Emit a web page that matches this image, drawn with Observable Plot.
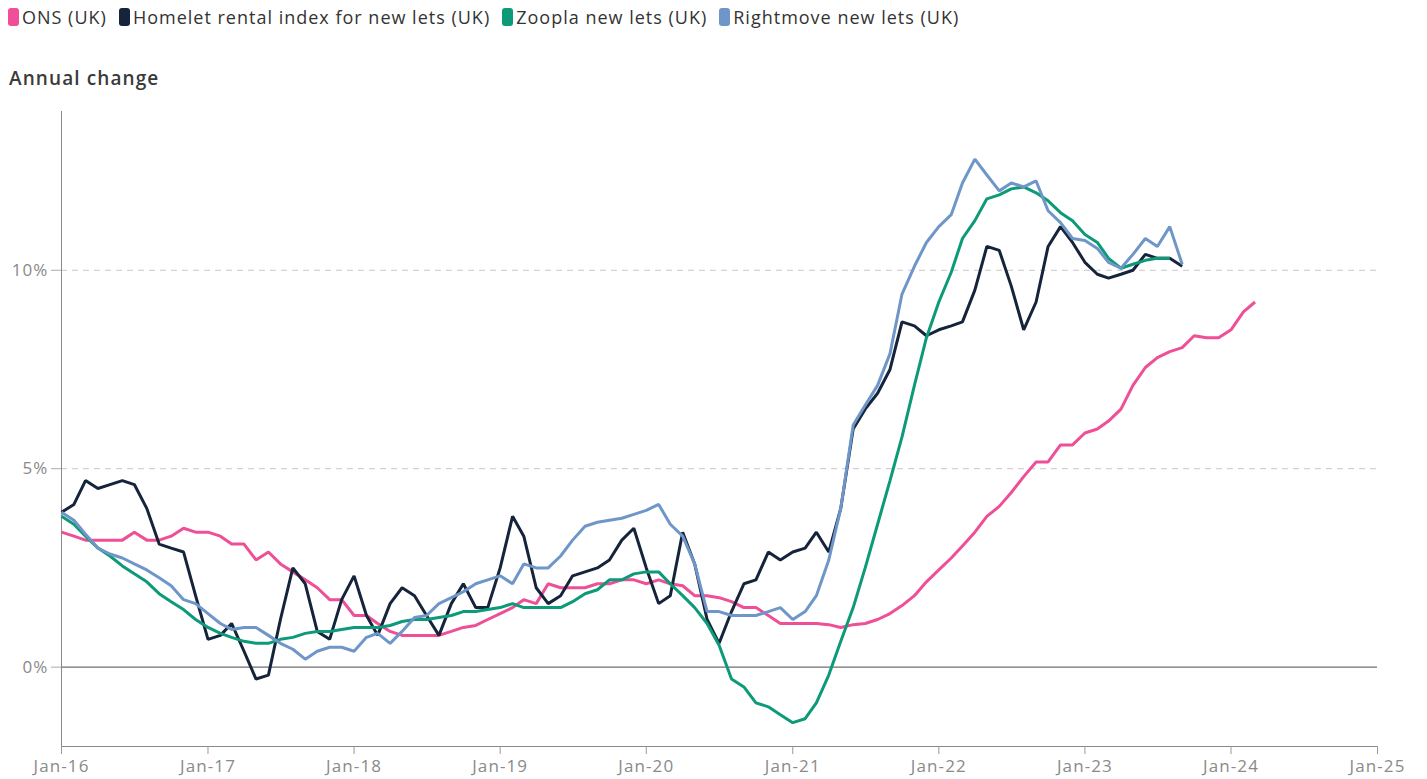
<!DOCTYPE html>
<html>
<head>
<meta charset="utf-8">
<script src="https://cdn.jsdelivr.net/npm/d3@7"></script>
<script src="https://cdn.jsdelivr.net/npm/@observablehq/plot@0.6"></script>
<style>
  html, body { margin: 0; padding: 0; background: #fff; }
  body { width: 1427px; height: 779px; position: relative; overflow: hidden; font-family: "Open Sans", sans-serif; }
  #legend { position: absolute; left: 8px; top: 5px; display: flex; align-items: center; font-size: 18px; letter-spacing: 1px; color: #333; white-space: nowrap; }
  #legend .item { display: flex; align-items: center; margin-right: 12px; }
  #legend .sw { display: inline-block; width: 11px; height: 18px; border-radius: 3px; margin-right: 3px; }
  #subtitle { position: absolute; left: 9px; top: 65px; font-size: 19px; letter-spacing: 1.1px; font-weight: 600; color: #3a3a3a; }
  #chart { position: absolute; left: 0; top: 100px; }
  #chart svg g[aria-label="y-axis tick label"] text,
  #chart svg g[aria-label="x-axis tick label"] text { letter-spacing: 1.1px; }
</style>
</head>
<body>
<div id="legend"></div>
<div id="subtitle">Annual change</div>
<div id="chart"></div>
<script>
// Series names and colours
const seriesNames = ["ONS (UK)", "Homelet rental index for new lets (UK)", "Zoopla new lets (UK)", "Rightmove new lets (UK)"];
const seriesColors = ["#ee4f96", "#15243b", "#0c9a78", "#6f96c9"];

// Monthly annual change (%), starting Jan 2016
const ons = [
  3.4, 3.3, 3.2, 3.2, 3.2, 3.2, 3.4, 3.2, 3.2, 3.3, 3.5, 3.4,
  3.4, 3.3, 3.1, 3.1, 2.7, 2.9, 2.6, 2.4, 2.2, 2.0, 1.7, 1.7,
  1.3, 1.3, 1.1, 0.9, 0.8, 0.8, 0.8, 0.8, 0.9, 1.0, 1.05, 1.2,
  1.35, 1.5, 1.7, 1.6, 2.1, 2.0, 2.0, 2.0, 2.1, 2.1, 2.2, 2.2,
  2.1, 2.2, 2.1, 2.05, 1.8, 1.8, 1.75, 1.65, 1.5, 1.5, 1.3, 1.1,
  1.1, 1.1, 1.1, 1.07, 1.0, 1.07, 1.1, 1.2, 1.35, 1.55, 1.8, 2.15,
  2.45, 2.75, 3.05, 3.4, 3.8, 4.05, 4.4, 4.8, 5.17, 5.17, 5.6, 5.6,
  5.9, 6.0, 6.2, 6.5, 7.1, 7.55, 7.8, 7.95, 8.05, 8.35, 8.3, 8.3,
  8.5, 8.95, 9.2
];
const homelet = [
  3.9, 4.1, 4.7, 4.5, 4.6, 4.7, 4.6, 4.0, 3.1, 3.0, 2.9, 1.8,
  0.7, 0.8, 1.1, 0.4, -0.3, -0.2, 1.2, 2.5, 2.1, 0.9, 0.7, 1.7,
  2.3, 1.3, 0.8, 1.6, 2.0, 1.8, 1.3, 0.8, 1.6, 2.1, 1.5, 1.5,
  2.5, 3.8, 3.3, 2.0, 1.6, 1.8, 2.3, 2.4, 2.5, 2.7, 3.2, 3.5,
  2.5, 1.6, 1.8, 3.4, 2.6, 1.2, 0.6, 1.4, 2.1, 2.2, 2.9, 2.7,
  2.9, 3.0, 3.4, 2.9, 4.0, 6.0, 6.5, 6.9, 7.5, 8.7, 8.6, 8.35,
  8.5, 8.6, 8.7, 9.5, 10.6, 10.5, 9.6, 8.5, 9.2, 10.6, 11.1, 10.7,
  10.2, 9.9, 9.8, 9.9, 10.0, 10.4, 10.3, 10.3, 10.1
];
const zoopla = [
  3.8, 3.6, 3.3, 3.0, 2.8, 2.55, 2.35, 2.15, 1.85, 1.65, 1.45, 1.2,
  1.0, 0.85, 0.75, 0.65, 0.6, 0.6, 0.7, 0.75, 0.85, 0.9, 0.9, 0.95,
  1.0, 1.0, 1.0, 1.05, 1.15, 1.2, 1.2, 1.25, 1.3, 1.4, 1.4, 1.45,
  1.5, 1.6, 1.5, 1.5, 1.5, 1.5, 1.65, 1.85, 1.95, 2.2, 2.2, 2.35,
  2.4, 2.4, 2.1, 1.8, 1.5, 1.1, 0.55, -0.3, -0.5, -0.9, -1.0, -1.2,
  -1.4, -1.3, -0.9, -0.2, 0.65, 1.5, 2.5, 3.6, 4.7, 5.8, 7.1, 8.3,
  9.2, 9.95, 10.8, 11.25, 11.8, 11.9, 12.05, 12.1, 11.95, 11.75, 11.45, 11.25,
  10.9, 10.7, 10.3, 10.05, 10.15, 10.25, 10.3, 10.3
];
const rightmove = [
  3.9, 3.7, 3.35, 3.0, 2.85, 2.75, 2.6, 2.45, 2.25, 2.05, 1.7, 1.6,
  1.35, 1.1, 0.95, 1.0, 1.0, 0.8, 0.6, 0.45, 0.2, 0.4, 0.5, 0.5,
  0.4, 0.75, 0.85, 0.6, 0.9, 1.25, 1.3, 1.6, 1.75, 1.9, 2.1, 2.2,
  2.3, 2.1, 2.6, 2.5, 2.5, 2.8, 3.2, 3.55, 3.65, 3.7, 3.75, 3.85,
  3.95, 4.1, 3.6, 3.3, 2.6, 1.4, 1.4, 1.3, 1.3, 1.3, 1.4, 1.5,
  1.2, 1.4, 1.8, 2.7, 4.0, 6.1, 6.6, 7.1, 7.9, 9.4, 10.1, 10.7,
  11.1, 11.4, 12.2, 12.8, 12.4, 12.0, 12.2, 12.1, 12.25, 11.5, 11.2, 10.8,
  10.75, 10.55, 10.2, 10.05, 10.4, 10.8, 10.6, 11.1, 10.15
];
const yTicks = [0, 5, 10];
const xTickYears = [2016, 2017, 2018, 2019, 2020, 2021, 2022, 2023, 2024, 2025];

const allSeries = [ons, homelet, zoopla, rightmove];
const rows = [];
allSeries.forEach((vals, s) => {
  vals.forEach((v, i) => rows.push({series: seriesNames[s], date: new Date(Date.UTC(2016, i, 1)), value: v}));
});

// Legend
const legend = document.getElementById("legend");
seriesNames.forEach((n, i) => {
  const it = document.createElement("div");
  it.className = "item";
  it.innerHTML = `<span class="sw" style="background:${seriesColors[i]}"></span><span>${n}</span>`;
  legend.appendChild(it);
});

const chart = Plot.plot({
  width: 1427,
  height: 679,
  marginLeft: 61,
  marginRight: 50,
  marginTop: 11,
  marginBottom: 33,
  style: {fontFamily: "Open Sans, sans-serif", fontSize: "17px", color: "#8a8a8a", background: "#fff", overflow: "visible"},
  x: {type: "utc", domain: [new Date(Date.UTC(2016, 0, 1)), new Date(Date.UTC(2025, 0, 1))]},
  y: {domain: [-2, 14]},
  color: {domain: seriesNames, range: seriesColors},
  marks: [
    Plot.gridY(yTicks.filter(d => d !== 0), {stroke: "#c8c8c8", strokeOpacity: 1, strokeDasharray: "6,5"}),
    Plot.ruleY([0], {stroke: "#6e6e6e", strokeWidth: 1.3}),
    Plot.frame({anchor: "left", stroke: "#8a8a8a"}),
    Plot.frame({anchor: "bottom", stroke: "#8a8a8a"}),
    Plot.axisY({ticks: yTicks, tickFormat: d => d + "%", tickSize: 10, tickPadding: 3, stroke: "#aaa", label: null, fontSize: 17}),
    Plot.axisX({ticks: xTickYears.map(y => new Date(Date.UTC(y, 0, 1))), tickFormat: d3.utcFormat("%b-%y"), tickSize: 8, tickPadding: 5, stroke: "#999", label: null, fontSize: 17}),
    Plot.lineY(rows, {x: "date", y: "value", z: "series", stroke: "series", strokeWidth: 3, strokeLinejoin: "miter", strokeLinecap: "butt"})
  ]
});
document.getElementById("chart").appendChild(chart);
</script>
</body>
</html>
